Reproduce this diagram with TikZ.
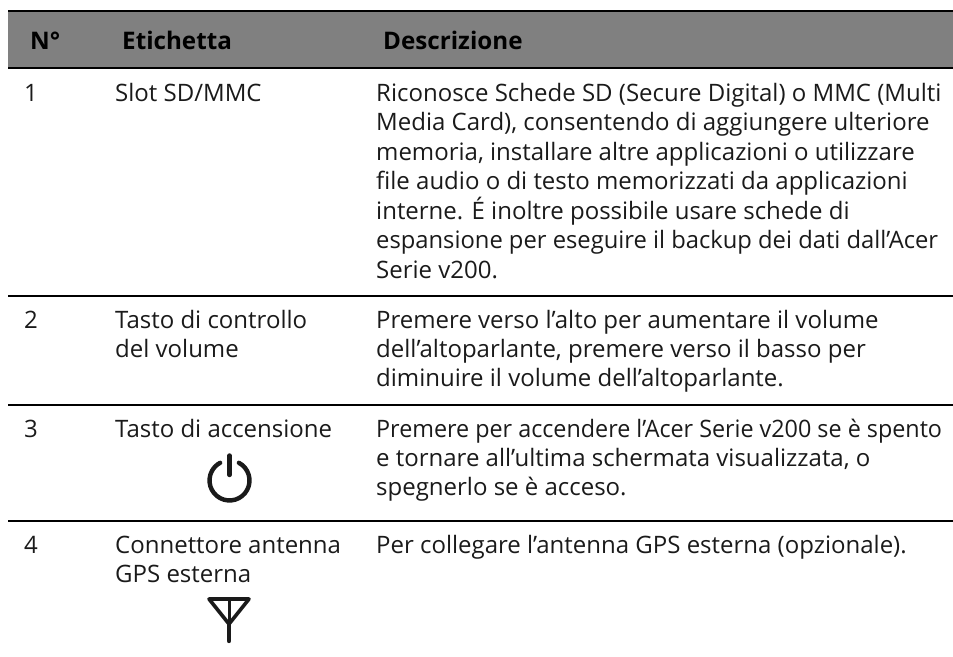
\documentclass[tikz,border=0pt]{standalone}
\usepackage{fontspec}
\setmainfont{Open Sans}
\definecolor{hdr}{HTML}{808080}
\definecolor{ink}{HTML}{1A1A1A}
\tikzset{
 cell/.style={inner sep=0pt,anchor=base west,text=ink,font=\fontsize{24pt}{24pt}\selectfont},
 head/.style={inner sep=0pt,anchor=base west,font=\fontsize{24.2pt}{24pt}\selectfont\bfseries},
 rul/.style={line width=1.9pt,black},
 sym/.style={line width=4.4pt,ink,line cap=round,line join=round}
}
\begin{document}
\begin{tikzpicture}[x=1pt,y=-1pt]
\useasboundingbox (0,0) rectangle (953,656);
\fill[hdr] (8,11) rectangle (953,68);
\foreach \y in {11,68,296,405,521}{\draw[rul] (8,\y) -- (953,\y);}
\node[head] (h1) at (30,49) {N°};
\node[head] (h2) at (122,49) {Etichetta};
\node[head] (h3) at (383,49) {Descrizione};
\node[cell] (n1) at (24,101) {1};
\node[cell] (l1) at (115,101) {Slot SD/MMC};
\foreach \i/\y/\t in {1/101/{Riconosce Schede SD (Secure Digital) o MMC (Multi},
2/130/{Media Card), consentendo di aggiungere ulteriore},
3/160/{memoria, installare altre applicazioni o utilizzare},
4/189/{file audio o di testo memorizzati da applicazioni},
5/219/{interne. É inoltre possibile usare schede di},
7/278/{Serie v200.}}{\node[cell] (d\i) at (376,\y) {\t};}
\node[cell,xscale=0.99] (d6) at (376,248) {espansione per eseguire il backup dei dati dall’Acer};
\node[cell] (n2) at (24,328) {2};
\node[cell] (l2a) at (115,328) {Tasto di controllo};
\node[cell] (l2b) at (115,357) {del volume};
\node[cell] (e1) at (376,328) {Premere verso l’alto per aumentare il volume};
\node[cell] (e2) at (376,357) {dell’altoparlante, premere verso il basso per};
\node[cell] (e3) at (376,386) {diminuire il volume dell’altoparlante.};
\node[cell] (n3) at (24,437) {3};
\node[cell] (l3) at (115,437) {Tasto di accensione};
\node[cell,xscale=0.972] (f1) at (376,437) {Premere per accendere l’Acer Serie v200 se è spento};
\node[cell] (f2) at (376,466) {e tornare all’ultima schermata visualizzata, o};
\node[cell] (f3) at (376,495) {spegnerlo se è acceso.};
\node[cell] (n4) at (24,553) {4};
\node[cell] (l4a) at (115,553) {Connettore antenna};
\node[cell] (l4b) at (115,582) {GPS esterna};
\node[cell] (g1) at (376,553) {Per collegare l’antenna GPS esterna (opzionale).};
\coordinate (pw) at (229.5,480.5);
\draw[sym] ([shift={(9.4,-17.7)}]pw) arc[start angle=62,end angle=-242,radius=20pt];
\draw[sym] (229.5,455.5) -- (229.5,475);
\draw[sym,line width=3.6pt] (209,599) -- (249,599) -- (229,624) -- cycle;
\draw[sym,line width=3pt] (229,599) -- (229,624);
\draw[sym] (229,624) -- (229,641);
\end{tikzpicture}
\end{document}
